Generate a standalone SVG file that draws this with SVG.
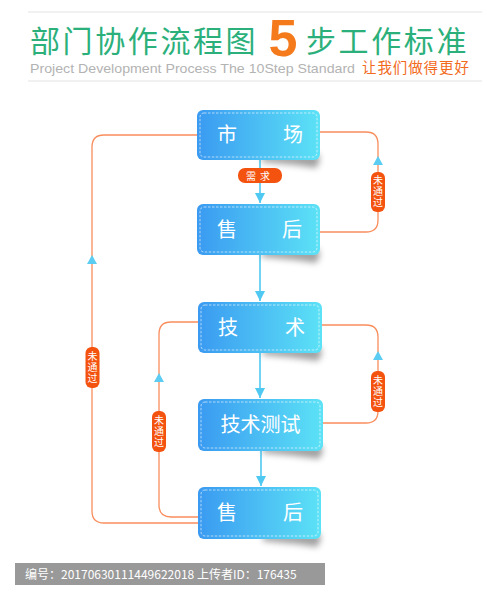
<svg xmlns="http://www.w3.org/2000/svg" width="501" height="600" viewBox="0 0 501 600">
<defs>
<linearGradient id="bg" x1="0" y1="0" x2="1" y2="0">
<stop offset="0" stop-color="#3a9af1"/>
<stop offset="1" stop-color="#5ce2f6"/>
</linearGradient>
<filter id="sh" x="-20%" y="-50%" width="140%" height="200%">
<feGaussianBlur stdDeviation="3"/>
</filter>
<marker id="ba" viewBox="0 0 10 10" refX="10" refY="5" markerWidth="10" markerHeight="10" markerUnits="userSpaceOnUse" orient="auto">
<path d="M0,0 L10,5 L0,10 Z" fill="#4fc9f1"/>
</marker>
<style>
.cn{font-family:"Noto Sans CJK SC","Noto Sans",sans-serif;}
.box{fill:url(#bg);}
.dash{fill:none;stroke:#ffffff;stroke-opacity:0.75;stroke-width:0.8;stroke-dasharray:2.5 1.5;}
.bt{fill:#ffffff;font-size:20px;text-anchor:middle;}
.loop{fill:none;stroke:#f98d5c;stroke-width:1.3;}
.flow{fill:none;stroke:#4fc9f1;stroke-width:1.6;}
.tri{fill:#5ccdf2;}
.badge{fill:#f4530f;}
.bdt{fill:#ffffff;font-size:10px;text-anchor:middle;}
.vt{writing-mode:vertical-rl;letter-spacing:1px;}
.shadow{fill:#555;opacity:0.55;filter:url(#sh);}
</style>
</defs>
<rect width="501" height="600" fill="#ffffff"/>

<g id="header">
<line x1="28" y1="12" x2="482" y2="12" stroke="#e3e3e3" stroke-width="1"/>
<line x1="28" y1="81" x2="482" y2="81" stroke="#e3e3e3" stroke-width="1"/>
<text x="30" y="52" class="cn" font-size="30" fill="#2bb07b" letter-spacing="2.6">部门协作流程图</text>
<text x="283" y="56" font-family="Liberation Sans,Arial,sans-serif" font-weight="bold" font-size="52" fill="#f57a1c" text-anchor="middle">5</text>
<text x="306" y="52" class="cn" font-size="30" fill="#2bb07b" letter-spacing="2.6">步工作标准</text>
<text x="30" y="73" font-family="Liberation Sans,Arial,sans-serif" font-size="13" fill="#b3b3b3" textLength="325" lengthAdjust="spacingAndGlyphs">Project Development Process The 10Step Standard</text>
<text x="362" y="73" class="cn" font-size="14.5" fill="#f26a1b" letter-spacing="0.9">让我们做得更好</text>
</g>

<g id="connectors">
<path class="loop" d="M320,132 H366 Q378,132 378,144 V220 Q378,232 366,232 H320"/>
<path class="loop" d="M197,135 H104 Q92,135 92,147 V511 Q92,523 104,523 H198"/>
<path class="loop" d="M322,325 H366 Q378,325 378,337 V411 Q378,423 366,423 H323"/>
<path class="loop" d="M198,322 H171 Q159,322 159,334 V505 Q159,517 171,517 H198"/>
<path class="tri" d="M378,156 L383,165 L373,165 Z"/>
<path class="tri" d="M92,255 L97,264 L87,264 Z"/>
<path class="tri" d="M378,351 L383,360 L373,360 Z"/>
<path class="tri" d="M159,373 L164,382 L154,382 Z"/>
<line class="flow" x1="260" y1="160" x2="260" y2="203" marker-end="url(#ba)"/>
<line class="flow" x1="260" y1="255" x2="260" y2="301" marker-end="url(#ba)"/>
<line class="flow" x1="260" y1="353" x2="260" y2="398" marker-end="url(#ba)"/>
<line class="flow" x1="261" y1="451" x2="261" y2="486" marker-end="url(#ba)"/>
</g>

<g id="badges">
<g id="badge-req">
<rect class="badge" x="238" y="168" width="44" height="15" rx="7"/>
<text class="cn bdt" x="260" y="179.5" font-size="11" letter-spacing="4">需求</text>
</g>
<g id="badge-r1">
<rect class="badge" x="371" y="172" width="14" height="40" rx="6"/>
<text class="cn bdt vt" x="378" y="192">未通过</text>
</g>
<g id="badge-l1">
<rect class="badge" x="85.5" y="347" width="14" height="41" rx="6"/>
<text class="cn bdt vt" x="92.5" y="367.5">未通过</text>
</g>
<g id="badge-r2">
<rect class="badge" x="371" y="371" width="14" height="41" rx="6"/>
<text class="cn bdt vt" x="378" y="391.5">未通过</text>
</g>
<g id="badge-l2">
<rect class="badge" x="152" y="411" width="14" height="41" rx="6"/>
<text class="cn bdt vt" x="159" y="431.5">未通过</text>
</g>
</g>

<g id="node-market">
<path class="shadow" d="M262,156 L318,154 Q322,160 316,168 Q290,164 262,162 Z"/>
<rect class="box" x="197" y="110" width="123" height="50" rx="6"/>
<rect class="dash" x="200" y="113" width="117" height="44" rx="4"/>
<text class="cn bt" x="227" y="142">市</text>
<text class="cn bt" x="293" y="142">场</text>
</g>

<g id="node-aftersale1">
<path class="shadow" d="M262,251 L318,249 Q322,255 316,263 Q290,259 262,257 Z"/>
<rect class="box" x="197" y="204" width="123" height="51" rx="6"/>
<rect class="dash" x="200" y="207" width="117" height="45" rx="4"/>
<text class="cn bt" x="227" y="237">售</text>
<text class="cn bt" x="292" y="237">后</text>
</g>

<g id="node-tech">
<path class="shadow" d="M263,349 L320,347 Q324,353 318,361 Q292,357 263,355 Z"/>
<rect class="box" x="198" y="302" width="124" height="51" rx="6"/>
<rect class="dash" x="201" y="305" width="118" height="45" rx="4"/>
<text class="cn bt" x="228" y="335">技</text>
<text class="cn bt" x="295" y="335">术</text>
</g>

<g id="node-test">
<path class="shadow" d="M263,447 L321,445 Q325,451 319,459 Q293,455 263,453 Z"/>
<rect class="box" x="198" y="399" width="125" height="52" rx="6"/>
<rect class="dash" x="201" y="402" width="119" height="46" rx="4"/>
<text class="cn bt" x="260.5" y="432" font-size="21">技术测试</text>
</g>

<g id="node-aftersale2">
<path class="shadow" d="M263,535 L319,533 Q323,539 317,547 Q291,543 263,541 Z"/>
<rect class="box" x="198" y="487" width="123" height="52" rx="6"/>
<rect class="dash" x="201" y="490" width="117" height="46" rx="4"/>
<text class="cn bt" x="227" y="520">售</text>
<text class="cn bt" x="293" y="520">后</text>
</g>

<g id="footer">
<rect x="15" y="563" width="310" height="22" fill="#999999"/>
<text x="25" y="579" class="cn" font-size="12" fill="#ffffff">编号：20170630111449622018 上传者ID：176435</text>
</g>
</svg>
